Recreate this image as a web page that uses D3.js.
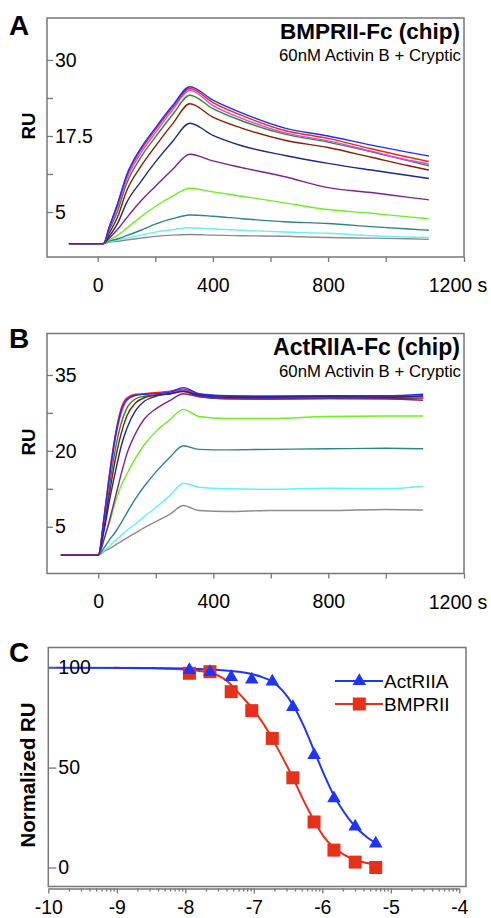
<!DOCTYPE html>
<html>
<head>
<meta charset="utf-8">
<script src="https://cdn.jsdelivr.net/npm/d3@7"></script>
<style>
  body { margin: 0; background: #fff; }
  text { font-family: "Liberation Sans", Arial, Helvetica, sans-serif; fill: #000; }
  .tick text { font-size: 19.5px; }
  .tick line { stroke: #777; stroke-width: 1.3; }
</style>
</head>
<body>
<svg id="fig"></svg>
<script>
// ---- panel A : BMPRII-Fc chip, sensorgrams (RU vs time, s)
const timeA = [-100, 20, 40, 70, 100, 150, 200, 260, 320, 400, 500, 650, 800, 950, 1080, 1150];
const grayA    = [-0.2, -0.2, 0.05, 0.2, 0.4, 0.7, 1.0, 1.2, 1.3, 1.2, 1.1, 1.0, 0.8, 0.7, 0.6, 0.5];
const cyanA    = [-0.2, -0.2, 0.1, 0.4, 0.7, 1.2, 1.7, 2.1, 2.4, 2.2, 2.0, 1.7, 1.5, 1.1, 0.9, 0.8];
const tealA    = [-0.2, -0.2, 0.2, 0.6, 1.1, 2.0, 3.0, 3.9, 4.5, 4.3, 3.9, 3.4, 3.1, 2.6, 2.2, 2.0];
const limeA    = [-0.2, -0.2, 0.4, 1.2, 2.3, 4.2, 5.9, 7.6, 8.9, 8.3, 7.6, 6.5, 5.4, 4.8, 4.2, 3.9];
const purpleA  = [-0.2, -0.2, 0.7, 2.2, 4.0, 6.8, 9.2, 12.0, 14.5, 13.4, 12.3, 10.8, 9.0, 8.2, 7.4, 7.0];
const navyA    = [-0.2, -0.2, 1.0, 3.2, 6.5, 10.0, 13.2, 16.6, 19.6, 17.6, 15.9, 14.3, 13.0, 11.9, 11.0, 10.5];
const brownA   = [-0.2, -0.2, 1.5, 4.3, 8.4, 12.5, 15.8, 19.5, 22.8, 20.6, 18.8, 16.8, 15.6, 14.0, 12.6, 11.9];
const greenA   = [-0.2, -0.2, 2.0, 5.3, 9.6, 14.0, 17.3, 21.0, 24.2, 22.0, 20.0, 17.8, 16.5, 14.9, 13.4, 12.6];
const magentaA = [-0.2, -0.2, 2.3, 6.0, 10.3, 14.7, 18.0, 21.8, 25.0, 22.5, 20.4, 18.0, 16.7, 15.0, 13.5, 12.9];
const redA     = [-0.2, -0.2, 2.5, 6.4, 10.8, 15.2, 18.5, 22.2, 25.3, 23.0, 20.9, 18.4, 17.1, 15.4, 14.0, 13.3];
const blueA    = [-0.2, -0.2, 2.5, 6.5, 11.0, 15.5, 18.8, 22.5, 25.6, 23.4, 21.3, 18.8, 17.5, 16.0, 14.8, 14.2];
const yTicksA = [5, 11.25, 17.5, 23.75, 30];
const yLabelsA = [5, 17.5, 30];

// ---- panel B : ActRIIA-Fc chip
const timeB = [-130, 0, 20, 40, 60, 80, 100, 130, 160, 200, 250, 296, 350, 450, 600, 800, 1000, 1130];
const grayB    = [-0.6, -0.6, 0.1, 0.7, 1.4, 2.1, 2.8, 3.8, 4.8, 6.0, 7.5, 9.2, 8.2, 8.0, 8.2, 8.2, 8.4, 8.3];
const cyanB    = [-0.6, -0.6, 0.3, 1.2, 2.3, 3.3, 4.3, 5.6, 7.0, 8.8, 11.2, 13.6, 12.8, 12.5, 12.4, 12.6, 12.5, 13.0];
const tealB    = [-0.6, -0.6, 0.8, 2.5, 4.0, 5.8, 7.8, 10.6, 13.0, 15.8, 18.8, 21.0, 20.3, 20.2, 20.3, 20.4, 20.5, 20.4];
const limeB    = [-0.6, -0.6, 2.5, 6.0, 10.0, 13.2, 15.5, 18.6, 21.2, 23.8, 26.2, 28.2, 26.8, 26.4, 26.4, 26.8, 26.9, 26.9];
const greenB   = [-0.6, -0.6, 5.5, 13.5, 20.5, 25.5, 28.5, 30.3, 30.8, 31.0, 31.3, 31.8, 30.8, 30.3, 30.2, 30.3, 30.3, 30.4];
const brownB   = [-0.6, -0.6, 5.0, 12.0, 18.5, 23.5, 27.0, 29.5, 30.5, 31.0, 31.3, 31.7, 30.8, 30.4, 30.4, 30.5, 30.4, 30.5];
const magentaB = [-0.6, -0.6, 6.5, 15.0, 22.5, 27.5, 30.0, 31.0, 31.2, 31.4, 31.6, 32.0, 31.0, 30.6, 30.6, 30.7, 30.6, 30.5];
const redB     = [-0.6, -0.6, 7.0, 16.0, 23.5, 28.5, 30.5, 31.2, 31.3, 31.5, 31.8, 32.2, 31.2, 30.8, 30.8, 30.9, 30.8, 30.7];
const blueB    = [-0.6, -0.6, 6.8, 15.5, 23.0, 28.0, 30.2, 31.0, 31.2, 31.3, 31.6, 32.5, 31.3, 30.9, 30.8, 30.9, 30.9, 31.2];
const navyB    = [-0.6, -0.6, 4.2, 10.5, 16.0, 21.0, 24.5, 28.0, 29.8, 30.8, 31.3, 31.8, 31.0, 30.6, 30.6, 30.7, 30.6, 30.9];
const purpleB  = [-0.6, -0.6, 2.5, 6.5, 11.0, 15.5, 19.5, 23.5, 26.3, 28.3, 30.0, 31.3, 30.7, 30.3, 30.3, 30.4, 30.3, 30.0];
const yTicksB = [5, 12.5, 20, 27.5, 35];
const yLabelsB = [5, 20, 35];

const xTicksAB = [0, 200, 400, 600, 800, 1000];
const xLabelsAB = [0, 400, 800];

// ---- panel C : competition, log[M]
const logConc = [-7.94, -7.64, -7.33, -7.03, -6.73, -6.43, -6.12, -5.83, -5.52, -5.22];
const actRIIA = [99.3, 98.3, 95.8, 94.5, 93.5, 80.8, 56.8, 35.1, 21.0, 12.5];
const bmprII  = [97.2, 98.0, 88.0, 78.5, 64.6, 44.9, 22.8, 8.7, 2.7, 0.0];
const fitXActRIIA = [-10, -8.5, -8, -7.5, -7.03, -6.88, -6.73, -6.58, -6.43, -6.28, -6.12, -5.98, -5.83, -5.68, -5.52, -5.37, -5.22];
const fitYActRIIA = [100, 99.9, 99.6, 98.8, 96.8, 95.3, 93, 88.5, 81.5, 71.5, 58.5, 47, 36, 27.5, 20.5, 15.8, 12.2];
const fitXBMPRII = [-9.05, -8.5, -8, -7.64, -7.45, -7.33, -7.2, -7.03, -6.88, -6.73, -6.58, -6.43, -6.28, -6.12, -5.98, -5.83, -5.68, -5.52, -5.37, -5.22];
const fitYBMPRII = [100, 99.7, 99, 97.5, 94.8, 91.5, 86.5, 80, 73, 64.5, 55, 45, 34, 23.5, 15.5, 10, 6.3, 3.8, 2.4, 1.5];
const xTicksC = [-10, -9, -8, -7, -6, -5, -4];
const yTicksC = [0, 50, 100];

const W = 491, H = 918;
const boxColor = '#777';

const svg = d3.select('#fig').attr('width', W).attr('height', H);

// shrink/grow a text so that it spans the wanted width
function fitWidth(sel, target) {
  let w = sel.node().getComputedTextLength();
  let fs = parseFloat(sel.style('font-size'));
  if (w > 0) sel.style('font-size', (fs * target / w) + 'px');
}

function kinetics(cfg) {
  let g = svg.append('g');
  let x = d3.scaleLinear().domain(cfg.xDomain).range([cfg.l, cfg.r]);
  let y = d3.scaleLinear().domain(cfg.yDomain).range([cfg.b, cfg.t]);

  // traces (bottom ones first)
  let line = d3.line()
    .x((d, i) => x(cfg.time[i]))
    .y(d => y(d))
    .curve(d3.curveMonotoneX);
  g.selectAll('path.trace')
    .data(cfg.series)
    .enter()
    .append('path')
    .attr('class', 'trace')
    .attr('d', d => line(d.values))
    .attr('fill', 'none')
    .attr('stroke', d => d.color)
    .attr('stroke-width', 1.4);

  // box
  g.append('rect')
    .attr('x', cfg.l).attr('y', cfg.t)
    .attr('width', cfg.r - cfg.l).attr('height', cfg.b - cfg.t)
    .attr('fill', 'none').attr('stroke', boxColor).attr('stroke-width', 1.5);

  // y axis, ticks pointing in, labels inside the box
  let yAxis = d3.axisRight(y)
    .tickValues(cfg.yTicks)
    .tickSize(6)
    .tickPadding(2)
    .tickFormat(d => cfg.yLabels.includes(d) ? d : '');
  g.append('g')
    .attr('transform', `translate(${cfg.l}, 0)`)
    .call(yAxis)
    .call(a => a.select('.domain').remove());

  // x axis below the box
  let xAxis = d3.axisBottom(x)
    .tickValues(cfg.xTicks.concat([cfg.xDomain[1]]))
    .tickSize(5)
    .tickPadding(16)
    .tickFormat(d => cfg.xLabels.includes(d) ? d : '');
  g.append('g')
    .attr('transform', `translate(0, ${cfg.b})`)
    .call(xAxis)
    .call(a => a.select('.domain').remove());

  // unit label at the end of the axis
  g.append('text')
    .attr('x', cfg.r - 6)
    .attr('y', cfg.b + 35)
    .style('text-anchor', 'middle')
    .style('font-size', '19.5px')
    .text('1200 s');

  // panel letter
  g.append('text')
    .attr('x', 9).attr('y', cfg.letterY)
    .style('font-size', '28px').style('font-weight', 'bold')
    .text(cfg.letter);

  // titles
  let title = g.append('text')
    .attr('x', 460).attr('y', cfg.t + 21)
    .style('text-anchor', 'end')
    .style('font-size', '21px').style('font-weight', 'bold')
    .text(cfg.title);
  fitWidth(title, cfg.titleW);
  let sub = g.append('text')
    .attr('x', 461).attr('y', cfg.t + 43)
    .style('text-anchor', 'end')
    .style('font-size', '16.5px')
    .text('60nM Activin B + Cryptic');
  fitWidth(sub, 182);

  // y label
  let lab = g.append('text')
    .attr('transform', `translate(35, ${cfg.labelY}) rotate(-90)`)
    .style('text-anchor', 'middle')
    .style('font-size', '20px').style('font-weight', 'bold')
    .text('RU');
  fitWidth(lab, 27);
}

kinetics({
  letter: 'A', letterY: 35, title: 'BMPRII-Fc (chip)', titleW: 180, labelY: 126,
  l: 47, t: 18, r: 464, b: 257,
  xDomain: [-176, 1272], yDomain: [-2.4, 36.9],
  xTicks: xTicksAB, xLabels: xLabelsAB, yTicks: yTicksA, yLabels: yLabelsA,
  time: timeA,
  series: [
    { color: '#8c8c8c', values: grayA },
    { color: '#66f0f5', values: cyanA },
    { color: '#2f8585', values: tealA },
    { color: '#6cf020', values: limeA },
    { color: '#7d2390', values: purpleA },
    { color: '#1c2a8c', values: navyA },
    { color: '#8a1d05', values: brownA },
    { color: '#2f8a2a', values: greenA },
    { color: '#f03cf0', values: magentaA },
    { color: '#f02a10', values: redA },
    { color: '#1e2cff', values: blueA }
  ]
});

kinetics({
  letter: 'B', letterY: 348, title: 'ActRIIA-Fc (chip)', titleW: 187, labelY: 442,
  l: 47, t: 333.5, r: 464, b: 573.5,
  xDomain: [-178.4, 1272], yDomain: [-4.25, 43.2],
  xTicks: xTicksAB, xLabels: xLabelsAB, yTicks: yTicksB, yLabels: yLabelsB,
  time: timeB,
  series: [
    { color: '#8c8c8c', values: grayB },
    { color: '#66f0f5', values: cyanB },
    { color: '#2f8585', values: tealB },
    { color: '#6cf020', values: limeB },
    { color: '#2f8a2a', values: greenB },
    { color: '#8a1d05', values: brownB },
    { color: '#f03cf0', values: magentaB },
    { color: '#f02a10', values: redB },
    { color: '#1e2cff', values: blueB },
    { color: '#1c2a8c', values: navyB },
    { color: '#7d2390', values: purpleB }
  ]
});

// ---- panel C
(function () {
  let l = 48.3, t = 647.5, r = 466, b = 886.5;
  let blue = '#1f35ff', red = '#e5311a';
  let g = svg.append('g');
  let x = d3.scaleLinear().domain([-10, -4]).range([l, 459.3]);
  let y = d3.scaleLinear().domain([-9.5, 110.1]).range([b, t]);

  let fit = d3.line().x(d => x(d[0])).y(d => y(d[1])).curve(d3.curveMonotoneX);

  g.append('path')
    .attr('d', fit(d3.zip(fitXBMPRII, fitYBMPRII)))
    .attr('fill', 'none').attr('stroke', red).attr('stroke-width', 2);
  g.append('path')
    .attr('d', fit(d3.zip(fitXActRIIA, fitYActRIIA)))
    .attr('fill', 'none').attr('stroke', blue).attr('stroke-width', 2);

  let sq = d3.symbol().type(d3.symbolSquare).size(169);
  let tri = d3.symbol().type(d3.symbolTriangle).size(80);

  g.selectAll('path.sq')
    .data(d3.zip(logConc, bmprII))
    .enter()
    .append('path')
    .attr('class', 'sq')
    .attr('d', sq)
    .attr('transform', d => `translate(${x(d[0])}, ${y(d[1])})`)
    .attr('fill', red);
  g.selectAll('path.tri')
    .data(d3.zip(logConc, actRIIA))
    .enter()
    .append('path')
    .attr('class', 'tri')
    .attr('d', tri)
    .attr('transform', d => `translate(${x(d[0])}, ${y(d[1]) + 1})`)
    .attr('fill', blue);

  // box
  g.append('rect')
    .attr('x', l).attr('y', t)
    .attr('width', r - l).attr('height', b - t)
    .attr('fill', 'none').attr('stroke', boxColor).attr('stroke-width', 1.5);

  // y axis inside
  g.append('g')
    .attr('transform', `translate(${l}, 0)`)
    .call(d3.axisRight(y).tickValues(yTicksC).tickSize(8).tickPadding(2))
    .call(a => a.select('.domain').remove());

  // x axis (log values) a bit under the box
  let minor = [];
  xTicksC.slice(0, -1).forEach(v => {
    [2, 3, 4, 5, 6, 7, 8, 9].forEach(k => minor.push(v + Math.log10(k)));
  });
  g.append('g')
    .attr('transform', `translate(0, ${b + 2})`)
    .call(d3.axisBottom(x).tickValues(minor).tickSize(3).tickFormat(''))
    .call(a => a.select('.domain').remove());
  g.append('g')
    .attr('transform', `translate(0, ${b + 2})`)
    .call(d3.axisBottom(x).tickValues(xTicksC).tickSize(5).tickSizeOuter(0)
      .tickPadding(7).tickFormat(d => String(d)))
    .call(a => a.select('.domain').attr('stroke', boxColor).attr('stroke-width', 1.3));

  // legend
  let legend = [
    { name: 'ActRIIA', color: blue, sym: tri, y: 681 },
    { name: 'BMPRII', color: red, sym: sq, y: 704 }
  ];
  legend.forEach(d => {
    g.append('line')
      .attr('x1', 335).attr('x2', 383)
      .attr('y1', d.y).attr('y2', d.y)
      .attr('stroke', d.color).attr('stroke-width', 2);
    g.append('path')
      .attr('d', d.sym)
      .attr('transform', `translate(359.3, ${d.y})`)
      .attr('fill', d.color);
    g.append('text')
      .attr('x', 384).attr('y', d.y + 7)
      .style('font-size', '19px')
      .text(d.name);
  });

  g.append('text')
    .attr('x', 9).attr('y', 662)
    .style('font-size', '28px').style('font-weight', 'bold')
    .text('C');

  let ylab = g.append('text')
    .attr('transform', 'translate(35, 775) rotate(-90)')
    .style('text-anchor', 'middle')
    .style('font-size', '20px').style('font-weight', 'bold')
    .text('Normalized RU');
  fitWidth(ylab, 145);
})();
</script>
</body>
</html>
